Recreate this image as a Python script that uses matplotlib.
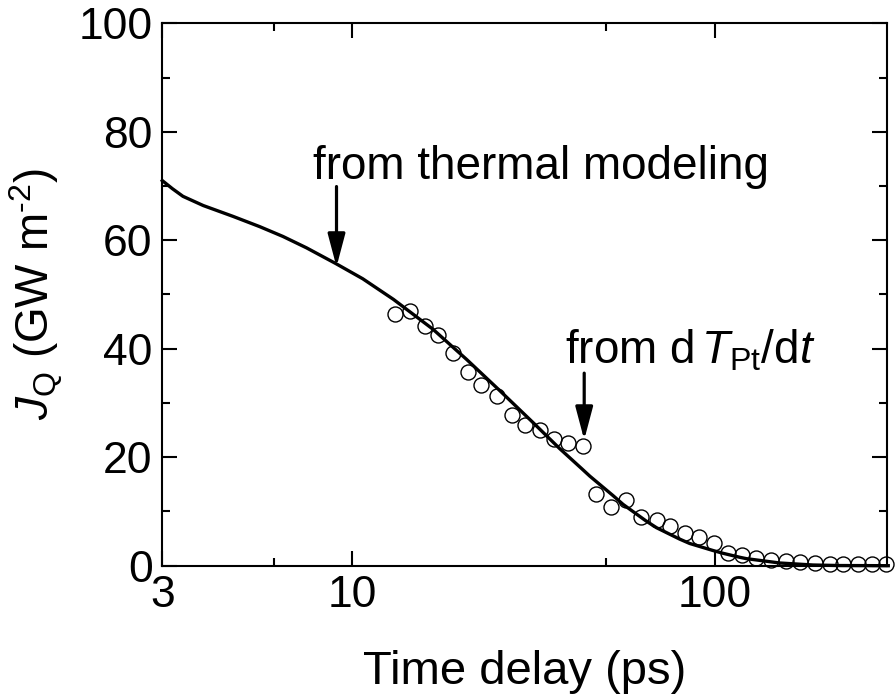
import matplotlib
matplotlib.use("Agg")
import matplotlib.pyplot as plt
from matplotlib.ticker import FixedLocator, NullFormatter

plt.rcParams['font.family'] = ['Liberation Sans', 'DejaVu Sans']
plt.rcParams['mathtext.fontset'] = 'custom'
plt.rcParams['mathtext.rm'] = 'Liberation Sans'
plt.rcParams['mathtext.it'] = 'Liberation Sans:italic'
plt.rcParams['mathtext.bf'] = 'Liberation Sans:bold'

# Model curve (from thermal modeling)
model_t = [3.0, 3.2, 3.42, 3.89, 4.70, 5.57, 6.45, 7.49, 9.02, 10.7, 13.0, 16.7,
           20.7, 25.5, 31.5, 37.3, 42.9, 45.2, 52.4, 55.8, 64.7, 69.0, 79.9, 85.1,
           98.7, 105, 117, 122, 150.7, 186, 220, 300]
model_j = [71.0, 69.5, 68.1, 66.4, 64.4, 62.5, 60.7, 58.6, 55.7, 52.9, 49.1, 43.6,
           38.0, 32.3, 26.4, 21.6, 17.9, 16.5, 12.9, 11.3, 8.2, 7.0, 4.9, 4.1,
           2.8, 2.3, 1.55, 1.3, 0.5, 0.13, 0.03, 0.0]

# Experimental data (from dT_Pt/dt)
data_t = [13.1, 14.4, 15.9, 17.3, 19.0, 20.9, 22.7, 25.0, 27.5, 29.9, 32.9, 35.9,
          39.4, 43.3, 47.1, 51.8, 57.0, 62.7, 69.0, 75.0, 82.5, 90.3, 99.4, 108.6,
          119.0, 130.0, 143.0, 156.6, 171.2, 188.3, 207.0, 225.3, 247.7, 271.4, 295.3]
data_j = [46.4, 47.0, 44.1, 42.5, 39.2, 35.8, 33.3, 31.2, 27.8, 25.9, 25.0, 23.3,
          22.7, 22.1, 13.3, 10.9, 12.1, 9.0, 8.4, 7.3, 6.1, 5.2, 4.2, 2.4,
          2.0, 1.4, 1.05, 0.9, 0.7, 0.44, 0.3, 0.3, 0.3, 0.3, 0.3]

x_major = [3, 10, 100]
x_major_labels = ['3', '10', '100']
x_minor = [6.1, 50]
y_major = [0, 20, 40, 60, 80, 100]
y_minor = [10, 30, 50, 70, 90]

fig = plt.figure(figsize=(8.96, 6.99), dpi=100)
ax = fig.add_axes([0.1811, 0.1907, 0.9896 - 0.1811, 0.9667 - 0.1907])

ax.plot(model_t, model_j, color='black', lw=2.4, zorder=3, clip_on=False,
        solid_joinstyle='round')
ax.plot(data_t, data_j, linestyle='none', marker='o', markersize=10.8,
        markerfacecolor='none', markeredgecolor='black', markeredgewidth=1.0,
        zorder=4, clip_on=False)

ax.set_xscale('log')
ax.set_xlim(3, 297)
ax.set_ylim(0, 100)
ax.xaxis.set_major_locator(FixedLocator(x_major))
ax.set_xticklabels(x_major_labels)
ax.xaxis.set_minor_locator(FixedLocator(x_minor))
ax.xaxis.set_minor_formatter(NullFormatter())
ax.set_yticks(y_major)
ax.yaxis.set_minor_locator(FixedLocator(y_minor))

ax.tick_params(which='both', direction='in', top=True, right=True, width=1.5,
               labelsize=32, pad=7)
ax.tick_params(which='major', length=11)
ax.tick_params(which='minor', length=6)
for s in ax.spines.values():
    s.set_linewidth(1.5)

ax.set_xlabel('Time delay (ps)', fontsize=34, labelpad=24)
ax.set_ylabel(r'$J_{\rm Q}$ (GW m$^{\text{-2}}$)', fontsize=33, labelpad=10)

ax.text(7.81, 71.2, 'from thermal modeling', fontsize=33, ha='left', va='baseline')
ax.annotate('', xy=(9.06, 55.1), xytext=(9.06, 69.9),
            arrowprops=dict(arrowstyle='-|>,head_length=20,head_width=5.3',
                            mutation_scale=1, lw=2.3, color='black',
                            shrinkA=0, shrinkB=0))
ax.text(38.5, 37.3, r'from d$\,T_{\rm Pt}$/d$t$', fontsize=33, ha='left', va='baseline')
ax.annotate('', xy=(43.6, 23.2), xytext=(43.6, 35.5),
            arrowprops=dict(arrowstyle='-|>,head_length=20,head_width=5.3',
                            mutation_scale=1, lw=2.3, color='black',
                            shrinkA=0, shrinkB=0))

fig.savefig('out.png', dpi=100)
